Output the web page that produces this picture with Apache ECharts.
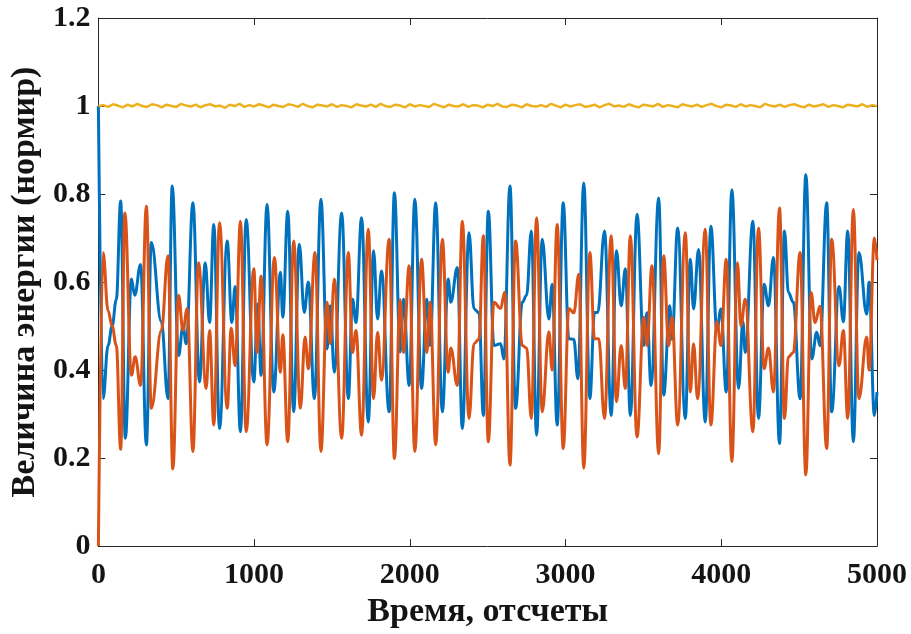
<!DOCTYPE html>
<html>
<head>
<meta charset="utf-8">
<script src="https://cdn.jsdelivr.net/npm/echarts@6/dist/echarts.min.js"></script>
<style>
html,body{margin:0;padding:0;background:#fff;}
#chart{width:911px;height:634px;}
</style>
</head>
<body>
<div id="chart"></div>
<script>
// Blue series: [time, value]
var bluePoints = [[0,1.0],[30,0.335],[62,0.456],[88,0.50],[115,0.56],[143,0.784],[173,0.245],[212,0.607],[233,0.57],[271,0.64],[308,0.23],[340,0.69],[404,0.51],[447,0.335],[474,0.818],[515,0.433],[543,0.50],[564,0.46],[607,0.78],[649,0.373],[686,0.644],[714,0.508],[741,0.731],[778,0.267],[827,0.693],[857,0.508],[878,0.59],[912,0.26],[949,0.742],[998,0.373],[1023,0.55],[1045,0.388],[1083,0.776],[1126,0.35],[1169,0.622],[1184,0.52],[1216,0.761],[1254,0.305],[1290,0.686],[1322,0.531],[1348,0.60],[1387,0.335],[1429,0.788],[1468,0.448],[1489,0.546],[1515,0.395],[1562,0.757],[1605,0.335],[1632,0.561],[1654,0.508],[1690,0.746],[1733,0.282],[1767,0.671],[1793,0.516],[1818,0.625],[1867,0.305],[1901,0.803],[1938,0.441],[1959,0.561],[1996,0.365],[2032,0.788],[2075,0.358],[2109,0.561],[2130,0.456],[2166,0.78],[2209,0.305],[2246,0.607],[2263,0.554],[2305,0.633],[2337,0.267],[2380,0.712],[2412,0.539],[2444,0.53],[2472,0.297],[2504,0.761],[2540,0.456],[2583,0.46],[2604,0.425],[2643,0.818],[2679,0.313],[2722,0.554],[2750,0.57],[2780,0.716],[2814,0.252],[2850,0.697],[2893,0.516],[2914,0.595],[2946,0.275],[2985,0.78],[3021,0.471],[3053,0.47],[3079,0.38],[3117,0.825],[3156,0.335],[3186,0.531],[3207,0.531],[3250,0.716],[3293,0.297],[3327,0.671],[3357,0.546],[3384,0.63],[3416,0.297],[3459,0.754],[3502,0.456],[3523,0.53],[3549,0.365],[3598,0.791],[3630,0.343],[3669,0.546],[3684,0.47],[3720,0.723],[3769,0.29],[3801,0.652],[3822,0.539],[3854,0.674],[3897,0.282],[3933,0.727],[3972,0.49],[3998,0.539],[4032,0.35],[4068,0.81],[4111,0.358],[4139,0.51],[4154,0.44],[4203,0.738],[4239,0.29],[4275,0.595],[4303,0.546],[4335,0.656],[4374,0.233],[4406,0.716],[4431,0.576],[4463,0.554],[4506,0.335],[4543,0.844],[4581,0.425],[4613,0.486],[4634,0.455],[4677,0.78],[4709,0.305],[4756,0.59],[4784,0.51],[4812,0.716],[4848,0.237],[4884,0.667],[4934,0.527],[4949,0.60],[4983,0.297],[5000,0.35]];

// Orange series: [time, value]
var orangePoints = [[0,0],[30,0.667],[62,0.535],[88,0.50],[115,0.456],[143,0.22],[170,0.757],[212,0.388],[236,0.43],[271,0.365],[308,0.772],[340,0.313],[404,0.49],[447,0.66],[478,0.175],[515,0.57],[543,0.49],[570,0.54],[607,0.215],[643,0.644],[692,0.358],[714,0.49],[741,0.275],[778,0.735],[827,0.313],[853,0.495],[878,0.41],[912,0.738],[949,0.26],[998,0.63],[1019,0.44],[1045,0.614],[1083,0.23],[1130,0.656],[1169,0.395],[1184,0.48],[1216,0.237],[1254,0.693],[1297,0.313],[1327,0.475],[1348,0.403],[1391,0.667],[1429,0.215],[1468,0.554],[1489,0.46],[1515,0.607],[1562,0.245],[1605,0.667],[1632,0.44],[1654,0.49],[1690,0.252],[1733,0.72],[1767,0.335],[1793,0.486],[1818,0.377],[1867,0.697],[1901,0.199],[1938,0.56],[1959,0.44],[1996,0.637],[2032,0.215],[2075,0.652],[2109,0.44],[2130,0.554],[2166,0.23],[2209,0.697],[2246,0.395],[2263,0.45],[2305,0.365],[2337,0.738],[2380,0.29],[2412,0.46],[2444,0.47],[2472,0.705],[2504,0.237],[2540,0.554],[2583,0.54],[2609,0.577],[2643,0.184],[2679,0.693],[2722,0.456],[2750,0.45],[2780,0.29],[2814,0.746],[2850,0.305],[2893,0.487],[2914,0.40],[2946,0.731],[2985,0.222],[3021,0.54],[3053,0.53],[3085,0.618],[3117,0.177],[3156,0.667],[3186,0.471],[3213,0.471],[3250,0.29],[3293,0.705],[3327,0.328],[3357,0.456],[3384,0.358],[3416,0.705],[3459,0.248],[3502,0.52],[3523,0.456],[3555,0.637],[3598,0.21],[3630,0.66],[3662,0.456],[3684,0.52],[3720,0.275],[3769,0.712],[3801,0.35],[3822,0.46],[3848,0.335],[3897,0.72],[3933,0.275],[3972,0.51],[3998,0.456],[4032,0.652],[4068,0.192],[4104,0.644],[4126,0.5],[4154,0.561],[4203,0.26],[4239,0.723],[4275,0.403],[4303,0.45],[4335,0.35],[4374,0.768],[4406,0.29],[4431,0.43],[4463,0.44],[4506,0.667],[4543,0.162],[4577,0.576],[4602,0.508],[4634,0.545],[4677,0.222],[4709,0.697],[4756,0.41],[4784,0.49],[4812,0.29],[4848,0.765],[4884,0.335],[4934,0.475],[4949,0.40],[4983,0.70],[5000,0.65]];

// Yellow (total) series: values sampled every yellowStep time units
var yellowStep = 31.25;
var yellowValues = [1.000,1.002,0.998,1.004,1.001,0.997,1.003,0.999,1.005,1.000,
0.998,1.004,1.002,0.997,1.003,1.000,0.998,1.005,1.001,0.999,
1.003,0.997,1.002,1.004,0.999,1.001,0.996,1.003,1.000,1.005,
0.998,1.002,0.999,1.004,1.001,0.997,1.003,1.000,0.998,1.004,
1.002,0.998,1.005,1.000,0.997,1.003,1.001,0.999,1.004,0.998,
1.002,1.000,0.997,1.004,1.001,0.999,1.003,0.998,1.005,1.000,
0.998,1.003,1.001,0.997,1.004,0.999,1.002,1.000,0.998,1.005,
1.001,0.997,1.003,1.000,0.999,1.004,0.998,1.002,1.001,0.997,
1.003,1.000,1.005,0.999,0.998,1.003,1.001,0.997,1.004,1.000,
0.999,1.002,0.998,1.005,1.001,0.997,1.003,0.999,1.002,1.004,
0.998,1.000,1.003,0.997,1.002,1.005,0.999,1.001,0.998,1.004,
1.000,0.997,1.003,1.001,0.999,1.005,0.998,1.002,1.000,0.997,
1.004,1.001,0.999,1.003,0.998,1.002,1.005,1.000,0.997,1.003,
1.001,0.998,1.004,0.999,1.002,1.000,0.997,1.005,1.001,0.999,
1.003,0.998,1.002,1.004,1.000,0.997,1.003,0.999,1.001,1.004,
0.998,1.002,1.000,0.997,1.003,1.001,0.999,1.004,0.998,1.002,
1.000];

var xTitle = 'Время, отсчеты';
var yTitle = 'Величина энергии (нормир)';

var yellowData = yellowValues.map(function(v, i){ return [i * yellowStep, v]; });

var FONT = 'Liberation Serif';
var AXC = '#262626';
var TXT = '#141414';

var chart = echarts.init(document.getElementById('chart'), null, {renderer: 'canvas'});
chart.setOption({
  backgroundColor: '#ffffff',
  animation: false,
  grid: {left: 97, right: 34, top: 18, bottom: 86, containLabel: false},
  xAxis: [{
    type: 'value', min: 0, max: 5000, interval: 1000,
    name: xTitle, nameLocation: 'middle', nameGap: 45,
    nameTextStyle: {fontFamily: FONT, fontWeight: 'bold', fontSize: 34, color: TXT},
    axisLine: {show: true, onZero: false, lineStyle: {color: AXC, width: 1}},
    axisTick: {show: true, inside: true, length: 7, lineStyle: {color: AXC}},
    axisLabel: {fontFamily: FONT, fontWeight: 'bold', fontSize: 30, color: TXT, margin: 14,
      formatter: function(v){ return String(v); }},
    splitLine: {show: false}
  }, {
    type: 'value', min: 0, max: 5000, interval: 1000, position: 'top',
    axisLine: {show: true, onZero: false, lineStyle: {color: AXC, width: 1}},
    axisTick: {show: true, inside: true, length: 7, lineStyle: {color: AXC}},
    axisLabel: {show: false}, splitLine: {show: false}
  }],
  yAxis: [{
    type: 'value', min: 0, max: 1.2, interval: 0.2,
    name: yTitle, nameLocation: 'middle', nameGap: 56, nameRotate: 90,
    nameTextStyle: {fontFamily: FONT, fontWeight: 'bold', fontSize: 34, color: TXT},
    axisLine: {show: true, onZero: false, lineStyle: {color: AXC, width: 1}},
    axisTick: {show: true, inside: true, length: 7, lineStyle: {color: AXC}},
    axisLabel: {fontFamily: FONT, fontWeight: 'bold', fontSize: 30, color: TXT, margin: 8},
    splitLine: {show: false}
  }, {
    type: 'value', min: 0, max: 1.2, interval: 0.2, position: 'right',
    axisLine: {show: true, onZero: false, lineStyle: {color: AXC, width: 1}},
    axisTick: {show: true, inside: true, length: 7, lineStyle: {color: AXC}},
    axisLabel: {show: false}, splitLine: {show: false}
  }],
  series: [{
    type: 'line', data: bluePoints, showSymbol: false, smooth: 0.4, smoothMonotone: 'x',
    lineStyle: {color: '#0072BD', width: 3}, itemStyle: {color: '#0072BD'}, z: 2
  }, {
    type: 'line', data: orangePoints, showSymbol: false, smooth: 0.4, smoothMonotone: 'x',
    lineStyle: {color: '#D95319', width: 3}, itemStyle: {color: '#D95319'}, z: 3
  }, {
    type: 'line', data: yellowData, showSymbol: false,
    lineStyle: {color: '#EDB120', width: 2.5}, itemStyle: {color: '#EDB120'}, z: 4
  }]
});
</script>
</body>
</html>
